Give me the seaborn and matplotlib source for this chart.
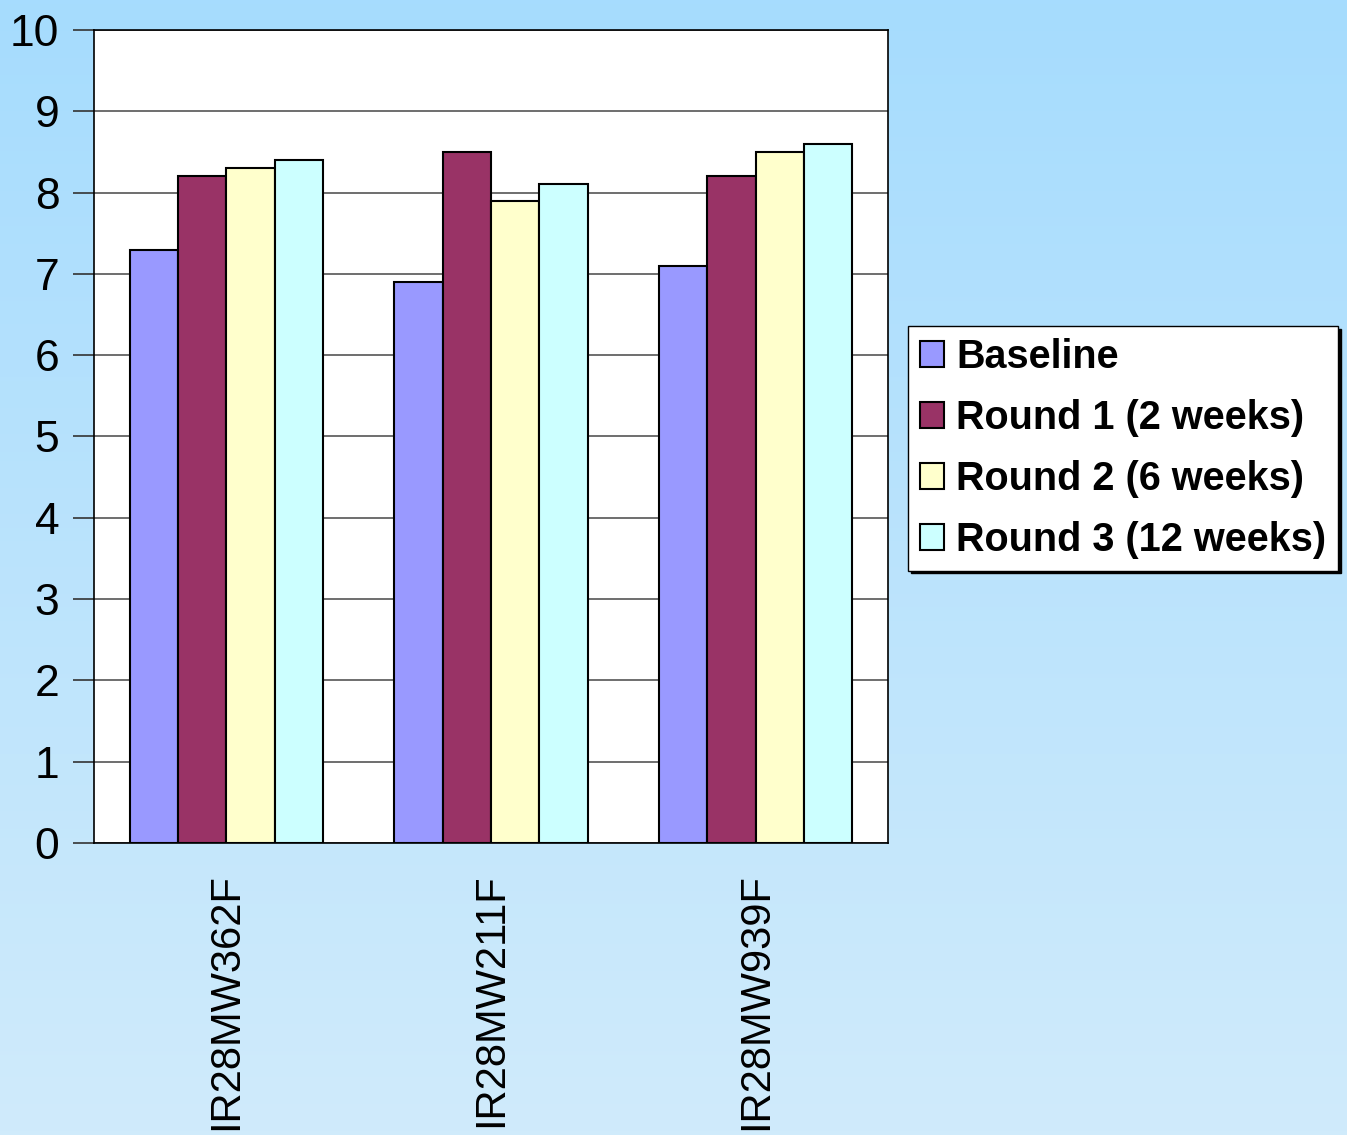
import numpy as np
import pandas as pd
import matplotlib
matplotlib.use('Agg')
import matplotlib.pyplot as plt
import seaborn as sns
from matplotlib.colors import LinearSegmentedColormap

# ── data ─────────────────────────────────────────────
samples = ['IR28MW362F', 'IR28MW211F', 'IR28MW939F']
rounds = ['Baseline', 'Round 1 (2 weeks)', 'Round 2 (6 weeks)', 'Round 3 (12 weeks)']
baseline = [7.3, 6.9, 7.1]
round1 = [8.2, 8.5, 8.2]
round2 = [8.3, 7.9, 8.5]
round3 = [8.4, 8.1, 8.6]
colors = ['#9999FF', '#993366', '#FFFFCC', '#CCFFFF']

df = pd.DataFrame({
    'sample': samples * 4,
    'round': [r for r in rounds for _ in samples],
    'value': baseline + round1 + round2 + round3,
})

sns.set_style('white')
plt.rcParams['font.family'] = ['Liberation Sans', 'DejaVu Sans']
plt.rcParams['text.color'] = 'black'
plt.rcParams['xtick.color'] = 'black'
plt.rcParams['ytick.color'] = 'black'

fig = plt.figure(figsize=(13.47, 11.35), dpi=100)

# gradient background
bg = fig.add_axes([0, 0, 1, 1], zorder=-10)
grad = np.linspace(0, 1, 256).reshape(-1, 1)
cmap = LinearSegmentedColormap.from_list('bg', ['#A6DCFE', '#D0EBFB'])
bg.imshow(grad, aspect='auto', cmap=cmap, extent=[0, 1, 0, 1], origin='upper')
bg.axis('off')

ax = fig.add_axes([94 / 1347, 1 - 843 / 1135, (888 - 94) / 1347, (843 - 30) / 1135])
ax.set_facecolor('white')

sns.barplot(data=df, x='sample', y='value', hue='round', hue_order=rounds,
            palette=colors, width=0.73, edgecolor='black', linewidth=1.5,
            saturation=1, errorbar=None, ax=ax, zorder=3)

ax.set_ylim(0, 10)
ax.set_xlim(-0.5, 2.5)
ax.set_yticks(range(0, 11))
ax.yaxis.grid(True, color='#555555', linewidth=1.2, zorder=0)
ax.set_axisbelow(True)
ax.set_xlabel('')
ax.set_ylabel('')
for s in ax.spines.values():
    s.set_visible(True)
    s.set_color('black')
    s.set_linewidth(1.2)

ax.tick_params(axis='y', which='major', direction='out', length=15, width=1.2,
               labelsize=32, pad=10, left=True, color='#333333', labelcolor='black')
ax.tick_params(axis='x', which='major', length=0, labelsize=30, pad=22, labelcolor='black')
plt.setp(ax.get_xticklabels(), rotation=90, va='top', ha='center')

handles, labels = ax.get_legend_handles_labels()
leg = ax.legend(handles, labels, loc='upper left',
                bbox_to_anchor=(908 / 1347, 1 - 326 / 1135),
                bbox_transform=fig.transFigure,
                prop={'weight': 'bold', 'size': 28.5},
                frameon=True, fancybox=False, shadow={'color': 'black', 'alpha': 1},
                edgecolor='black', framealpha=1, borderpad=0.3,
                labelspacing=0.58, handlelength=0.62, handleheight=0.62,
                handletextpad=0.3, borderaxespad=0)
leg.get_frame().set_linewidth(1.0)
for t in leg.get_texts():
    t.set_color('black')
for h in leg.legend_handles:
    h.set_edgecolor('black')
    h.set_linewidth(1.5)

fig.savefig('out.png', dpi=100)
